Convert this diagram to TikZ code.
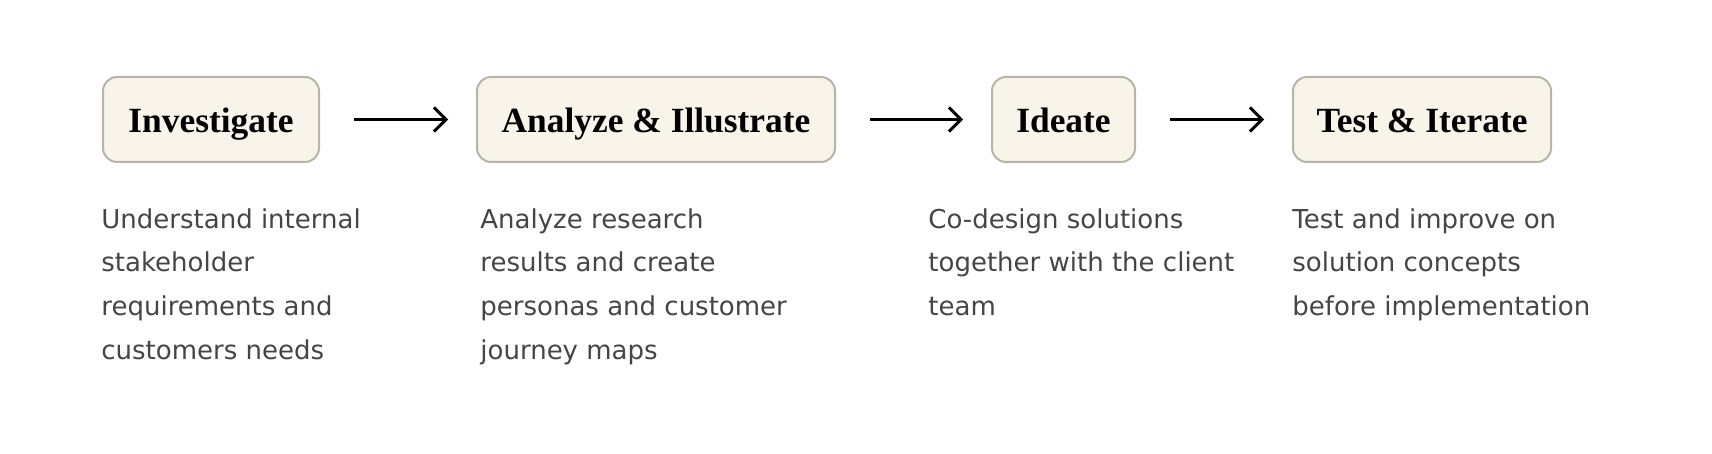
\documentclass[tikz,border=0pt]{standalone}
\usepackage{fontspec}
\setmainfont{DejaVu Sans}
\newfontfamily\headfont{Liberation Serif}
\usetikzlibrary{arrows.meta,positioning}
\definecolor{boxfill}{HTML}{F8F4EA}
\definecolor{boxline}{HTML}{B9B4A8}
\definecolor{bodytext}{HTML}{454545}

\begin{document}
\begin{tikzpicture}[x=0.5pt,y=-0.5pt,>={Straight Barb[length=6pt,width=12pt]},
  phase/.style={draw=boxline,fill=boxfill,line width=1pt,rounded corners=7pt,
    minimum height=42.5pt,inner sep=0pt,text height=12.9pt,text depth=0.2pt,
    font=\headfont\bfseries\fontsize{17.7}{20}\selectfont},
  descr/.style={anchor=north west,align=left,inner sep=0pt,text=bodytext,
    font=\fontsize{13}{21.85}\selectfont},
  flow/.style={->,line width=1.5pt,shorten <=17pt,shorten >=14pt}]
\useasboundingbox (0,0) rectangle (1712,454);
% 四个阶段
\node[phase,minimum width=108pt] (invest) at (211,119.5) {Investigate};
\node[phase,minimum width=179pt] (analyze) at (656,119.5) {Analyze \& Illustrate};
\node[phase,minimum width=71.5pt] (ideate) at (1063.5,119.5) {Ideate};
\node[phase,minimum width=129pt] (test) at (1422,119.5) {Test \& Iterate};
% 箭头
\draw[flow] (invest) -- (analyze);
\draw[flow] (analyze) -- (ideate);
\draw[flow] (ideate) -- (test);
% 说明文字
\node[descr] (investtxt) at (101,208) {Understand internal\\stakeholder\\requirements and\\customers needs};
\node[descr] (analyzetxt) at (480,208) {Analyze research\\results and create\\personas and customer\\journey maps};
\node[descr] (ideatetxt) at (928,208) {Co-design solutions\\together with the client\\team};
\node[descr] (testtxt) at (1292,208) {Test and improve on\\solution concepts\\before implementation};
\end{tikzpicture}
\end{document}
